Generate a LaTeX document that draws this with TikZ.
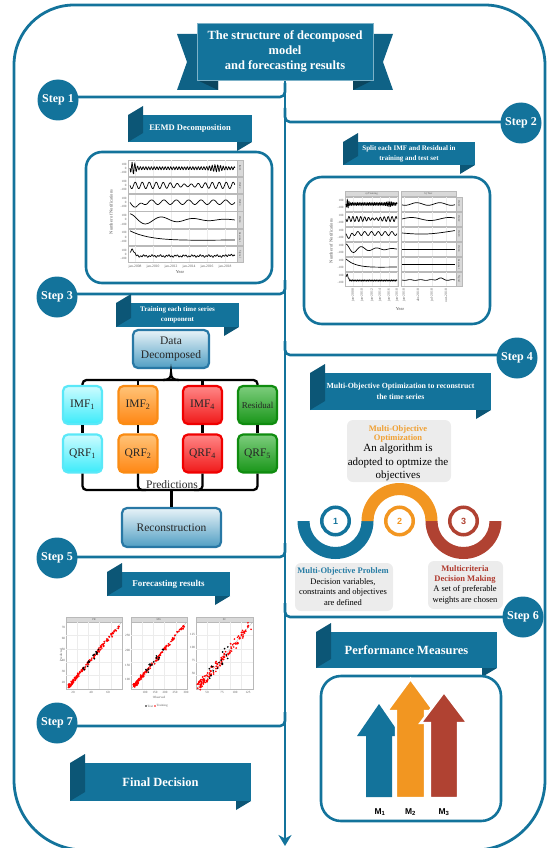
\documentclass[tikz,border=0pt]{standalone}
\usepackage{fontspec}
\setmainfont{Liberation Serif}
\newfontfamily\sansf{Liberation Sans}
\usetikzlibrary{arrows.meta,backgrounds,calc}
\definecolor{mainC}{RGB}{19,115,155}
\definecolor{darkC}{RGB}{12,86,118}
\definecolor{tailC}{RGB}{15,98,134}
\definecolor{orgC}{RGB}{242,150,33}
\definecolor{redC}{RGB}{176,66,50}
\definecolor{greyB}{RGB}{236,236,236}
\definecolor{moBlue}{RGB}{40,125,165}
\definecolor{moOrg}{RGB}{240,160,50}
\definecolor{moRed}{RGB}{176,58,46}
\definecolor{stripC}{RGB}{217,217,217}
\definecolor{cyanT}{RGB}{205,252,255}
\definecolor{cyanB}{RGB}{60,235,250}
\definecolor{cyanD}{RGB}{90,232,248}
\definecolor{orgT}{RGB}{255,195,120}
\definecolor{orgB}{RGB}{255,135,20}
\definecolor{orgD}{RGB}{250,140,20}
\definecolor{redT}{RGB}{255,135,135}
\definecolor{redB}{RGB}{240,25,25}
\definecolor{redD}{RGB}{240,0,0}
\definecolor{grnT}{RGB}{125,205,125}
\definecolor{grnB}{RGB}{25,150,25}
\definecolor{grnD}{RGB}{15,140,15}
\definecolor{bluT}{RGB}{232,243,248}
\definecolor{bluB}{RGB}{80,158,195}
\definecolor{bluD}{RGB}{40,120,165}

\tikzset{
  conn/.style={draw=mainC, line width=2.6pt},
  frame/.style={draw=mainC, line width=2.8pt},
  stepc/.style={circle, fill=mainC, minimum size=41pt, inner sep=0pt, text=white, font=\fontsize{12}{14}\selectfont\bfseries},
  ribtext/.style={text=white, align=center, inner sep=0pt},
  pbox/.style={draw=mainC, line width=2.6pt},
  pframe/.style={draw=gray!55, line width=0.35pt, fill=white},
  stripbox/.style={draw=gray!55, fill=stripC, line width=0.3pt},
  gridl/.style={draw=gray!15, line width=0.3pt},
  curv/.style={draw=black, line width=0.7pt, line join=round},
  tiny/.style={font=\fontsize{3.2}{3.6}\selectfont, text=gray!70!black, inner sep=0.3pt},
  axl/.style={font=\fontsize{4.5}{5}\selectfont, text=gray!60!black, inner sep=0.3pt},
  stripl/.style={font=\fontsize{2.8}{3}\selectfont, text=gray!70!black, inner sep=0pt},
  tree/.style={draw=black, line width=2.3pt},
  gbox/.style={rounded corners=5pt, line width=2.2pt, minimum width=39pt, minimum height=38pt, inner sep=0pt, text=black!85, font=\fontsize{11.5}{14}\selectfont},
  numc/.style={circle, line width=3.5pt, minimum size=27.5pt, inner sep=0pt, font=\sansf\bfseries\fontsize{9}{10}\selectfont},
  mlab/.style={font=\sansf\bfseries\fontsize{8.5}{10}\selectfont, inner sep=0pt},
  bigarrow/.style={draw=white, line width=2.4pt, line join=miter},
}

\newcommand\myribbon[7]{%
  \fill[mainC] (#1,#2) rectangle (#3,#4);
  \fill[darkC] (#1,#2) -- (#1+15,#2-9) -- (#1+15,#4-9) -- (#1,#4) -- cycle;
  \fill[darkC] (#3-15,#4) -- (#3,#4) -- (#3-15,#4+9) -- cycle;
  \node[ribtext, font=#6] (#5) at ({(#1+#3)/2},{(#2+#4)/2}) {#7};
}

\begin{document}
\begin{tikzpicture}[x=1pt,y=-1pt]
\useasboundingbox (0,0) rectangle (551,848);

% ---------- title banner ----------
\fill[tailC] (177,34) -- (218,34) -- (218,90) -- (177,90) -- (187,62) -- cycle;
\fill[darkC!80!black] (197,80) -- (218,80) -- (218,90) -- cycle;
\fill[tailC] (393,34) -- (353,34) -- (353,90) -- (393,90) -- (383,62) -- cycle;
\fill[darkC!80!black] (373,80) -- (353,80) -- (353,90) -- cycle;
\node[fill=mainC, draw=mainC!55!white, line width=0.5pt, minimum width=176pt, minimum height=57pt, inner sep=0pt, text=white, align=center, font=\fontsize{12.5}{15}\selectfont\bfseries] (title) at (285,51.5) {The structure of decomposed\\model\\and forecasting results};

% ---------- steps ----------
\node[stepc] (s1) at (58,100) {Step 1};
\node[stepc] (s2) at (521,123) {Step 2};
\node[stepc] (s3) at (57,297) {Step 3};
\node[stepc] (s4) at (517,358) {Step 4};
\node[stepc] (s5) at (57,558) {Step 5};
\node[stepc] (s6) at (523,617) {Step 6};
\node[stepc] (s7) at (57,723) {Step 7};
\coordinate (j1) at (285,97);
\coordinate (j2) at (285,122);
\coordinate (j3) at (285,294);
\coordinate (j4) at (285,355);
\coordinate (j5) at (285,557);
\coordinate (j6) at (285,617);
\coordinate (j7) at (285,726);
\coordinate (spinend) at (285,846);

\begin{scope}[on background layer]
\draw[frame] (14,780) -- (14,65) arc[start angle=180,end angle=270,radius=60] -- (485,5)
  arc[start angle=270,end angle=360,radius=60] -- (545,780)
  arc[start angle=0,end angle=90,radius=70] -- (84,850)
  arc[start angle=90,end angle=180,radius=70] -- cycle;
\draw[conn,-{Stealth[length=11pt,width=13pt]}] (title.south) -- (spinend);
\foreach \sn/\jn in {s1/j1,s3/j3,s5/j5,s7/j7}
  \draw[conn, rounded corners=5pt] (\sn.center |- \jn) -- (\jn) -- ($(\jn)+(0,-14)$);
\foreach \sn/\jn in {s2/j2,s4/j4,s6/j6}
  \draw[conn, rounded corners=5pt] ($(\jn)+(0,-14)$) -- (\jn) -- (\sn.center |- \jn);
\end{scope}

% ---------- ribbons ----------
\myribbon{128}{115}{252}{142}{r1}{\fontsize{8.5}{10}\selectfont\bfseries}{EEMD Decomposition}
\myribbon{343}{142}{475}{165}{r2}{\fontsize{7}{10}\selectfont\bfseries}{Split each IMF and Residual in\\training and test set}
\myribbon{116}{303}{239}{327}{r3}{\fontsize{7}{10}\selectfont\bfseries}{Training each time series\\component}
\myribbon{310}{373}{491}{410}{r4}{\fontsize{7.8}{11}\selectfont\bfseries}{Multi-Objective Optimization to reconstruct\\the time series}
\myribbon{107}{572}{230}{596}{r5}{\fontsize{9}{11}\selectfont\bfseries}{Forecasting results}
\myribbon{316}{632}{497}{668}{r6}{\fontsize{12.5}{15}\selectfont\bfseries}{Performance Measures}
\myribbon{70}{763}{251}{801}{r7}{\fontsize{12.5}{15}\selectfont\bfseries}{Final Decision}

% ---------- EEMD plot ----------
\draw[pbox, rounded corners=16pt] (86,152) rectangle (272,283);
\foreach \i/\lab in {0/IMF1,1/IMF2,2/IMF3,3/IMF4,4/Residual,5/Signal}{
  \pgfmathsetmacro\ptop{160+\i*17.2}
  \draw[pframe] (128,\ptop) rectangle (237,\ptop+16.4);
  \draw[stripbox] (237,\ptop) rectangle (243,\ptop+16.4);
  \node[stripl, rotate=-90] at (240,\ptop+8.2) {\lab};
  \foreach \gx in {135,153,171,189,207,225} \draw[gridl] (\gx,\ptop+0.3) -- (\gx,\ptop+16.1);
  \node[tiny, anchor=east] at (127,\ptop+4) {100};
  \node[tiny, anchor=east] at (127,\ptop+8.2) {0};
  \node[tiny, anchor=east] at (127,\ptop+12.4) {-100};
}
\begin{scope}
\clip (128,160) rectangle (237,262.4);
\draw[curv] plot[domain=0:1,samples=200,variable=\t] ({130+\t*105},{168.2+(1.6+5*exp(-((\t-0.03)/0.03)^2)+2.2*exp(-((\t-0.82)/0.06)^2))*sin(\t*38*360)});
\draw[curv] plot[domain=0:1,samples=150,variable=\t] ({130+\t*105},{185.4+(3.3-1.9*exp(-((\t-0.55)/0.15)^2))*sin(\t*15*360)});
\draw[curv] plot[domain=0:1,samples=120,variable=\t] ({130+\t*105},{202.2+2.3*sin(\t*8.5*360)+5*exp(-((\t-0.07)/0.04)^2)});
\draw[curv] plot[domain=0:1,samples=100,variable=\t] ({130+\t*105},{219.8-6*exp(-2.5*\t)*cos(\t*3.3*360)});
\draw[curv] plot[domain=0:1,samples=60,variable=\t] ({130+\t*105},{230.8+11*(1-exp(-5*\t))-1.8*\t});
\draw[curv] plot[domain=0:1,samples=200,variable=\t] ({130+\t*105},{256-7*exp(-((\t-0.02)/0.025)^2)+0.8*sin(\t*37*360)+0.6*sin(\t*13*360)-1.5*exp(-((\t-0.95)/0.02)^2)});
\end{scope}
\foreach \xx/\lab in {135/jan-2008,153/jan-2010,171/jan-2012,189/jan-2014,207/jan-2016,225/jan-2018}
  \node[tiny, font=\fontsize{3.6}{4}\selectfont] at (\xx,266.5) {\lab};
\node[axl] (eemdx) at (180,272.5) {Year};
\node[axl, rotate=90] (eemdy) at (111,212) {Number of Notifications};

% ---------- Split plot ----------
\draw[pbox, rounded corners=18pt] (304,177) rectangle (490,324);
\draw[stripbox] (345,191) rectangle (398,196.5);
\draw[stripbox] (401,191) rectangle (456,196.5);
\node[stripl] at (371.5,193.8) {a) Training};
\node[stripl] at (428.5,193.8) {b) Test};
\foreach \i/\lab in {0/IMF1,1/IMF2,2/IMF3,3/IMF4,4/Residual,5/Signal}{
  \pgfmathsetmacro\ptop{197+\i*15}
  \draw[pframe] (345,\ptop) rectangle (398,\ptop+14);
  \draw[pframe] (401,\ptop) rectangle (456,\ptop+14);
  \draw[stripbox] (456,\ptop) rectangle (462,\ptop+14);
  \node[stripl, rotate=-90] at (459,\ptop+7) {\lab};
  \foreach \gx in {353,362,372,380,389,397,404,418,432,446} \draw[gridl] (\gx,\ptop+0.3) -- (\gx,\ptop+13.7);
  \node[tiny, anchor=east] at (344,\ptop+3.5) {100};
  \node[tiny, anchor=east] at (344,\ptop+10.5) {-100};
}
\begin{scope}
\clip (345,197) rectangle (398,286);
\draw[curv] plot[domain=0:1,samples=160,variable=\t] ({346+\t*51},{204+(1.5+3.5*exp(-((\t-0.03)/0.03)^2)+1.2*exp(-((\t-0.85)/0.06)^2))*sin(\t*30*360)});
\draw[curv] plot[domain=0:1,samples=120,variable=\t] ({346+\t*51},{219+(2.6-1.5*exp(-((\t-0.55)/0.15)^2))*sin(\t*13*360)});
\draw[curv] plot[domain=0:1,samples=100,variable=\t] ({346+\t*51},{233.5+2*sin(\t*7.5*360)+4.5*exp(-((\t-0.07)/0.04)^2)});
\draw[curv] plot[domain=0:1,samples=80,variable=\t] ({346+\t*51},{249-5*exp(-2.5*\t)*cos(\t*3.3*360)});
\draw[curv] plot[domain=0:1,samples=50,variable=\t] ({346+\t*51},{259+9.5*(1-exp(-5*\t))-1.5*\t});
\draw[curv] plot[domain=0:1,samples=160,variable=\t] ({346+\t*51},{280.5-6*exp(-((\t-0.02)/0.03)^2)+0.7*sin(\t*30*360)});
\end{scope}
\begin{scope}
\clip (401,197) rectangle (456,286);
\draw[curv] plot[domain=0:1,samples=60,variable=\t] ({402+\t*53},{204+1.3*sin(\t*2.3*360+40)});
\draw[curv] plot[domain=0:1,samples=60,variable=\t] ({402+\t*53},{219-1.5*sin(\t*1.4*360)});
\draw[curv] plot[domain=0:1,samples=60,variable=\t] ({402+\t*53},{233+1.8*sin(\t*200)-1.8*\t});
\draw[curv] (402,249) -- (455,249);
\draw[curv] (402,264) -- (455,264);
\draw[curv] plot[domain=0:1,samples=80,variable=\t] ({402+\t*53},{280-1.8*exp(-((\t-0.72)/0.07)^2)+0.4*sin(\t*5*360)});
\end{scope}
\foreach \xx/\lab in {353/jan-2008,362/jan-2010,372/jan-2012,380/jan-2014,389/jan-2016,397/jan-2018,404/jan-2018,418/abr-2018,432/jul-2018,446/out-2018}
  \node[tiny, rotate=90, anchor=east, font=\fontsize{3.6}{4}\selectfont] at (\xx,288.5) {\lab};
\node[axl] (splitx) at (400,309) {Year};
\node[axl, rotate=90] (splity) at (331,241) {Number of Notifications};

% ---------- Training tree ----------
\node[gbox, draw=bluD, top color=bluT, bottom color=bluB, minimum width=76pt, minimum height=38pt, align=center] (data) at (171,349) {Data\\Decomposed};
\node[gbox, draw=cyanD, top color=cyanT, bottom color=cyanB] (imf1) at (82.5,405) {IMF\textsubscript{1}};
\node[gbox, draw=orgD, top color=orgT, bottom color=orgB] (imf2) at (138,405) {IMF\textsubscript{2}};
\node[gbox, draw=redD, top color=redT, bottom color=redB] (imf4) at (202.5,405) {IMF\textsubscript{4}};
\node[gbox, draw=grnD, top color=grnT, bottom color=grnB, font=\fontsize{9}{11}\selectfont] (res) at (257.5,405) {Residual};
\node[gbox, draw=cyanD, top color=cyanT, bottom color=cyanB] (qrf1) at (82.5,453.5) {QRF\textsubscript{1}};
\node[gbox, draw=orgD, top color=orgT, bottom color=orgB] (qrf2) at (138,453.5) {QRF\textsubscript{2}};
\node[gbox, draw=redD, top color=redT, bottom color=redB] (qrf4) at (202.5,453.5) {QRF\textsubscript{4}};
\node[gbox, draw=grnD, top color=grnT, bottom color=grnB] (qrf5) at (257.5,453.5) {QRF\textsubscript{5}};
\node[gbox, draw=bluD, top color=bluT, bottom color=bluB, minimum width=99pt, minimum height=39pt] (recon) at (171.5,527.5) {Reconstruction};

\draw[tree, rounded corners=4pt] (imf1.north) -- (82.5,380) -- (257.5,380) -- (res.north);
\draw[tree] (imf2.north) -- (138,380);
\draw[tree] (imf4.north) -- (202.5,380);
\draw[tree] (data.south) -- (171,375);
\draw[tree] (163,380) .. controls (169,380) and (171,378) .. (171,373) .. controls (171,378) and (173,380) .. (179,380);
\foreach \a/\b in {imf1/qrf1, imf2/qrf2, imf4/qrf4, res/qrf5} \draw[tree] (\a) -- (\b);
\draw[tree, rounded corners=4pt] (qrf1.south) -- (82.5,490) -- (257.5,490) -- (qrf5.south);
\draw[tree, rounded corners=4pt] (qrf2.south) -- (138,490) -- (146,490);
\draw[tree, rounded corners=4pt] (qrf4.south) -- (202.5,490) -- (194,490);
\draw[tree] (171.5,490) -- (recon.north);
\node[font=\fontsize{11.5}{13}\selectfont, inner sep=0.5pt, text=black!85] (pred) at (172,484.5) {Predictions};

% ---------- Multi-objective ----------
\fill[greyB, rounded corners=6pt] (347,420) rectangle (451,482);
\node[font=\fontsize{8.5}{9}\selectfont\bfseries, text=moOrg, align=center, inner sep=0pt] (mot) at (398,433.5) {Multi-Objective\\Optimization};
\node[font=\fontsize{11}{13.5}\selectfont, align=center, inner sep=0pt] (mob) at (398,462.5) {An algorithm is\\adopted to optmize the\\objectives};

\fill[mainC] (297.5,521) arc[start angle=180,end angle=0,radius=38] -- (361.5,521) arc[start angle=0,end angle=180,radius=26] -- cycle;
\fill[orgC] (361.5,521) arc[start angle=180,end angle=360,radius=38] -- (425.5,521) arc[start angle=0,end angle=-180,radius=26] -- cycle;
\fill[redC] (425.5,521) arc[start angle=180,end angle=0,radius=38] -- (489.5,521) arc[start angle=0,end angle=180,radius=26] -- cycle;
\node[numc, draw=mainC, text=mainC] (n1) at (335.5,521) {1};
\node[numc, draw=orgC, text=orgC] (n2) at (399.5,521) {2};
\node[numc, draw=redC, text=redC] (n3) at (463.5,521) {3};

\fill[greyB, rounded corners=6pt] (295,563) rectangle (393,611);
\node[font=\fontsize{8.5}{10}\selectfont\bfseries, text=moBlue, inner sep=0pt] (mpt) at (343,571) {Multi-Objective Problem};
\node[font=\fontsize{8.5}{10.5}\selectfont, align=center, inner sep=0pt] (mpb) at (343,592) {Decision variables,\\constraints and objectives\\are defined};
\fill[greyB, rounded corners=6pt] (428,561) rectangle (503,609);
\node[font=\fontsize{8.5}{10}\selectfont\bfseries, text=moRed, align=center, inner sep=0pt] (mdt) at (465,574) {Multicriteria\\Decision Making};
\node[font=\fontsize{8.5}{11}\selectfont, align=center, inner sep=0pt] (mdb) at (465,594.5) {A set of preferable\\weights are chosen};

% ---------- Performance measures ----------
\draw[pbox, rounded corners=20pt] (321,676) rectangle (501,821);
\fill[mainC] (366,797) -- (366,736) -- (357,736) -- (379,704) -- (401,736) -- (392,736) -- (392,797) -- cycle;
\filldraw[fill=orgC, bigarrow] (396,798) -- (396,711) -- (387,711) -- (410.5,679) -- (434,711) -- (425,711) -- (425,798) -- cycle;
\filldraw[fill=redC, bigarrow] (430,798) -- (430,723) -- (420.5,723) -- (444,692) -- (467.5,723) -- (458,723) -- (458,798) -- cycle;
\node[mlab] (m1) at (380,812) {M\textsubscript{1}};
\node[mlab] (m2) at (410.5,812) {M\textsubscript{2}};
\node[mlab] (m3) at (444,812) {M\textsubscript{3}};

% ---------- Forecasting scatter ----------
\pgfmathsetseed{4242}
\foreach \px/\pw/\nz/\lab in {66/56/1.8/PR,131/56/2.0/MG,196/57/4.5/SC}{
  \draw[pframe] (\px,622) rectangle (\px+\pw,689);
  \draw[stripbox] (\px,617) rectangle (\px+\pw,622);
  \node[stripl] at (\px+\pw/2,619.5) {\lab};
  \foreach \g in {0.2,0.4,0.6,0.8}{
    \draw[gridl] (\px+\g*\pw,622.3) -- (\px+\g*\pw,688.7);
    \draw[gridl] (\px+0.3,622+\g*67) -- (\px+\pw-0.3,622+\g*67);
  }
  \draw[gray!60, line width=0.3pt] (\px+1,688) -- (\px+\pw-1,623);
  \foreach \kk in {1,...,140}{
    \pgfmathsetmacro\uu{rnd^1.6}
    \pgfmathsetmacro\xx{\px+3+\uu*(\pw-6)+0.4*\nz*rand}
    \pgfmathsetmacro\yy{686-\uu*60+\nz*rand}
    \fill[red] (\xx,\yy) circle[radius=0.95];
  }
  \foreach \kk in {1,...,16}{
    \pgfmathsetmacro\uu{0.2+0.4*rnd}
    \pgfmathsetmacro\xx{\px+3+\uu*(\pw-6)}
    \pgfmathsetmacro\yy{686-\uu*60+1.8*\nz*rand}
    \fill[black] (\xx,\yy) circle[radius=0.95];
  }
}
\foreach \vv/\yy in {70/627,60/638,50/649,40/660,30/671,20/682} \node[tiny, anchor=east] at (65.5,\yy) {\vv};
\foreach \vv/\xx in {20/73,40/91,60/108} \node[tiny] at (\xx,692) {\vv};
\foreach \vv/\yy in {250/635,200/650,150/665,100/679} \node[tiny, anchor=east] at (130.5,\yy) {\vv};
\foreach \vv/\xx in {100/145,150/155,200/165,250/175,300/186} \node[tiny] at (\xx,692) {\vv};
\foreach \vv/\yy in {125/634,100/647,75/660,50/673} \node[tiny, anchor=east] at (195.5,\yy) {\vv};
\foreach \vv/\xx in {50/207,75/222,100/235,125/248} \node[tiny] at (\xx,692) {\vv};
\node[tiny] (obs) at (159,697) {Observed};
\node[tiny, rotate=90] (prd) at (61,655) {Predicted};
\fill[black] (146,706) circle[radius=0.8];
\node[tiny, anchor=west] (lt) at (147.2,706) {Test};
\fill[red] (155,706) circle[radius=0.8];
\node[tiny, anchor=west] (lr) at (156.2,706) {Training};

\end{tikzpicture}
\end{document}
